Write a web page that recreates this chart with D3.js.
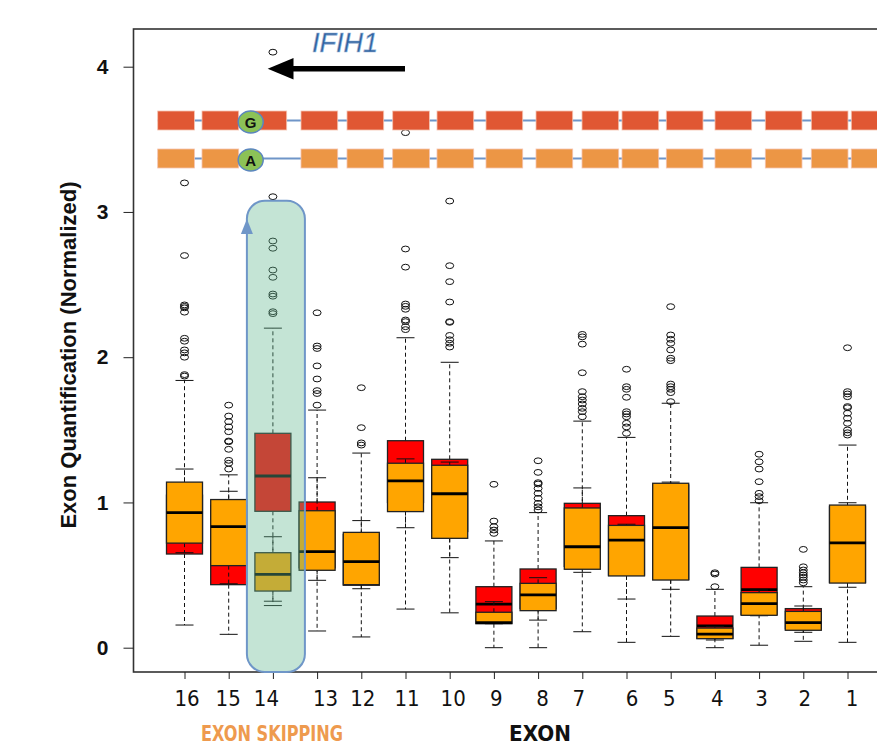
<!DOCTYPE html>
<html>
<head>
<meta charset="utf-8">
<script src="https://cdn.jsdelivr.net/npm/d3@7"></script>
<style>
  body { margin: 0; background: #fff; }
  svg { display: block; }
</style>
</head>
<body>
<svg></svg>
<script>
// exon order on the x axis (gene on minus strand, so 16 first)
const exons = ['16', '15', '14', '13', '12', '11', '10', '9', '8', '7', '6', '5', '4', '3', '2', '1']

// [lower whisker, q1, median, q3, upper whisker]
const redStats = [
  [0.156, 0.645, 0.85, 1.05, 1.84],
  [0.092, 0.434, 0.75, 0.98, 1.19],
  [0.32, 0.939, 1.182, 1.476, 2.20],
  [0.115, 0.55, 0.75, 1.003, 1.636],
  [0.074, 0.43, 0.60, 0.78, 1.34],
  [0.266, 1.0, 1.2, 1.425, 2.134],
  [0.24, 0.8, 1.1, 1.297, 1.965],
  [0.0, 0.165, 0.30, 0.42, 0.735],
  [0.0, 0.27, 0.40, 0.542, 0.93],
  [0.11, 0.56, 0.75, 0.994, 1.56],
  [0.037, 0.5, 0.78, 0.909, 1.448],
  [0.078, 0.47, 0.85, 1.12, 1.683],
  [0.0, 0.065, 0.15, 0.218, 0.402],
  [0.017, 0.23, 0.40, 0.553, 0.998],
  [0.044, 0.13, 0.20, 0.269, 0.42],
  [0.037, 0.45, 0.75, 0.97, 1.395]
]

const orangeStats = [
  [0.654, 0.72, 0.93, 1.14, 1.23],
  [0.44, 0.565, 0.833, 1.02, 1.077],
  [0.29, 0.39, 0.505, 0.654, 0.764],
  [0.464, 0.533, 0.661, 0.943, 1.17],
  [0.406, 0.434, 0.592, 0.794, 0.875],
  [0.826, 0.937, 1.148, 1.27, 1.30],
  [0.62, 0.753, 1.06, 1.256, 1.278],
  [0.165, 0.168, 0.172, 0.244, 0.317],
  [0.19, 0.255, 0.363, 0.443, 0.482],
  [0.519, 0.54, 0.695, 0.962, 1.10],
  [0.335, 0.494, 0.741, 0.842, 0.85],
  [0.402, 0.466, 0.826, 1.132, 1.14],
  [0.053, 0.062, 0.094, 0.135, 0.145],
  [0.22, 0.223, 0.303, 0.379, 0.397],
  [0.106, 0.12, 0.172, 0.25, 0.287],
  [0.416, 0.445, 0.721, 0.982, 0.998]
]

const outliers = [
  [3.20, 2.70, 2.36, 2.35, 2.34, 2.31, 2.13, 2.11, 2.05, 2.03, 2.00, 1.88, 1.87],
  [1.67, 1.595, 1.556, 1.52, 1.487, 1.423, 1.418, 1.366, 1.29, 1.27, 1.23],
  [4.10, 3.105, 2.80, 2.75, 2.60, 2.55, 2.435, 2.42, 2.313, 2.30],
  [2.306, 2.077, 2.06, 1.94, 1.85, 1.77, 1.75, 1.67],
  [1.79, 1.515, 1.41, 1.395],
  [3.546, 2.745, 2.62, 2.366, 2.35, 2.33, 2.256, 2.245, 2.21, 2.19],
  [3.075, 2.63, 2.52, 2.38, 2.245, 2.24, 2.15, 2.12, 2.096, 2.07],
  [1.125, 0.872, 0.833, 0.81, 0.787],
  [1.287, 1.207, 1.136, 1.127, 1.097, 1.063, 1.028, 0.994, 0.97, 0.948],
  [2.157, 2.14, 2.09, 1.893, 1.763, 1.728, 1.705, 1.678, 1.648, 1.625, 1.59],
  [1.917, 1.797, 1.779, 1.724, 1.625, 1.609, 1.59, 1.545, 1.52, 1.476],
  [2.348, 2.153, 2.123, 2.096, 2.05, 1.993, 1.976, 1.815, 1.797, 1.779, 1.756, 1.694],
  [0.516, 0.507, 0.42],
  [1.332, 1.28, 1.23, 1.143, 1.063, 1.04, 1.012],
  [0.677, 0.557, 0.535, 0.516, 0.50, 0.485, 0.466, 0.447],
  [2.065, 1.763, 1.747, 1.728, 1.66, 1.652, 1.614, 1.58, 1.545, 1.499, 1.48, 1.464]
]

const yTicks = [0, 1, 2, 3, 4]
const skippedExon = '14'

// layout
const w = 877
const h = 746
const frame = { left: 133.5, top: 29, bottom: 672, right: 900 }
const boxW = 36
const capW = 18
// small horizontal shifts of the hand placed exon labels
const labelNudge = [2, -1, -7, 8, 1, 1, 3, 2, 4, -4, 5, -2, 2, 2, 1, 4]
// gene sketch: left edges of the 16 exon blocks
const sketchX = [157.7, 202, 250, 301, 347, 392.7, 437, 486, 536, 582, 622, 666.3, 715, 765.3, 811.3, 851.3]
const sketchW = 36.7
const narrow = '"Liberation Sans Narrow", "DejaVu Sans Condensed", sans-serif'
const sans = '"Liberation Sans", Arial, sans-serif'

const svg = d3.select('svg').attr('width', w).attr('height', h)

const x = d3.scalePoint().domain(exons).range([184.5, 847.5])
const y = d3.scaleLinear().domain([0, 4]).range([647.7, 66.7])

// frame
svg.append('rect')
  .attr('x', frame.left).attr('y', frame.top)
  .attr('width', frame.right - frame.left).attr('height', frame.bottom - frame.top)
  .attr('fill', 'none').attr('stroke', '#333').attr('stroke-width', 1.6)

// y axis
const yAxis = d3.axisLeft(y).tickValues(yTicks).tickSize(10).tickPadding(15).tickFormat(d3.format('d'))
const gy = svg.append('g').attr('transform', `translate(${frame.left}, 0)`).call(yAxis)
gy.select('.domain').remove()
gy.selectAll('line').attr('stroke', '#222')
gy.selectAll('text')
  .attr('font-family', sans)
  .attr('font-weight', 'bold').attr('font-size', 21).attr('fill', '#111')

svg.append('text')
  .attr('transform', 'translate(76, 355) rotate(-90)')
  .attr('text-anchor', 'middle')
  .attr('font-family', sans)
  .attr('font-weight', 'bold').attr('font-size', 22).attr('fill', '#111')
  .text('Exon Quantification (Normalized)')

// x axis
const xAxis = d3.axisBottom(x).tickSize(7).tickPadding(11)
const gx = svg.append('g').attr('transform', `translate(0, ${frame.bottom})`).call(xAxis)
gx.select('.domain').remove()
gx.selectAll('line').attr('stroke', '#222')
gx.selectAll('text')
  .attr('font-family', narrow)
  .attr('font-size', 22).attr('fill', '#111')
  .attr('dx', (d, i) => labelNudge[i])

svg.append('text')
  .attr('x', 201).attr('y', 741)
  .attr('font-family', narrow)
  .attr('font-weight', 'bold').attr('font-size', 22).attr('fill', '#ee9a4e')
  .attr('textLength', 142).attr('lengthAdjust', 'spacingAndGlyphs')
  .text('EXON SKIPPING')

svg.append('text')
  .attr('x', 509).attr('y', 741)
  .attr('font-family', narrow)
  .attr('font-weight', 'bold').attr('font-size', 22).attr('fill', '#111')
  .attr('textLength', 62).attr('lengthAdjust', 'spacingAndGlyphs')
  .text('EXON')

// boxplots: red series first, orange on top
const drawBoxes = (stats, fill) => {
  const g = svg.append('g')
  const items = g.selectAll('g').data(stats).enter().append('g')
    .attr('transform', (d, i) => `translate(${x(exons[i])}, 0)`)

  items.append('line')
    .attr('y1', d => y(d[3])).attr('y2', d => y(d[4]))
    .attr('stroke', '#111').attr('stroke-dasharray', '4,3')
  items.append('line')
    .attr('y1', d => y(d[1])).attr('y2', d => y(d[0]))
    .attr('stroke', '#111').attr('stroke-dasharray', '4,3')
  items.append('line')
    .attr('x1', -capW / 2).attr('x2', capW / 2)
    .attr('y1', d => y(d[4])).attr('y2', d => y(d[4]))
    .attr('stroke', '#111')
  items.append('line')
    .attr('x1', -capW / 2).attr('x2', capW / 2)
    .attr('y1', d => y(d[0])).attr('y2', d => y(d[0]))
    .attr('stroke', '#111')

  items.append('rect')
    .attr('x', -boxW / 2).attr('width', boxW)
    .attr('y', d => y(d[3])).attr('height', d => y(d[1]) - y(d[3]))
    .attr('fill', fill).attr('stroke', '#222').attr('stroke-width', 1.3)
  items.append('line')
    .attr('x1', -boxW / 2).attr('x2', boxW / 2)
    .attr('y1', d => y(d[2])).attr('y2', d => y(d[2]))
    .attr('stroke', '#000').attr('stroke-width', 2.8)
}

drawBoxes(redStats, '#ff0000')
drawBoxes(orangeStats, '#ffa500')

// outliers
const pts = outliers.flatMap((vals, i) => vals.map(v => ({ exon: exons[i], v })))
svg.append('g').selectAll('ellipse').data(pts).enter().append('ellipse')
  .attr('cx', d => x(d.exon)).attr('cy', d => y(d.v))
  .attr('rx', 4).attr('ry', 2.9)
  .attr('fill', 'none').attr('stroke', '#111').attr('stroke-width', 1)

// exon skipping highlight
const sx = x(skippedExon)
svg.append('rect')
  .attr('x', sx - 26).attr('y', 200.7)
  .attr('width', 58).attr('height', frame.bottom - 200.7)
  .attr('rx', 18).attr('ry', 18)
  .attr('fill', 'rgb(100,185,145)').attr('fill-opacity', 0.38)
  .attr('stroke', '#6f96c8').attr('stroke-width', 2)
svg.append('path')
  .attr('d', `M${sx - 26},219 L${sx - 32},234 L${sx - 20},234 Z`)
  .attr('fill', '#6f96c8')

// gene sketch
const rows = [
  { y: 111, fill: '#e05733', allele: 'G', skip: false },
  { y: 149, fill: '#ec9645', allele: 'A', skip: true }
]
const sketch = svg.append('g')
rows.forEach(r => {
  sketch.append('line')
    .attr('x1', sketchX[0]).attr('x2', w)
    .attr('y1', r.y + 9.5).attr('y2', r.y + 9.5)
    .attr('stroke', '#6f95c8').attr('stroke-width', 2)
  sketch.selectAll(null)
    .data(sketchX.filter((d, i) => !(r.skip && i === 2)))
    .enter().append('rect')
    .attr('x', d => d).attr('y', r.y)
    .attr('width', sketchW).attr('height', 19)
    .attr('fill', r.fill).attr('stroke', '#f4c2b0').attr('stroke-width', 0.8)
  sketch.append('ellipse')
    .attr('cx', 250.7).attr('cy', r.y + 11)
    .attr('rx', 12.5).attr('ry', 11)
    .attr('fill', '#8cc257').attr('stroke', '#5b86bf').attr('stroke-width', 1.5)
  sketch.append('text')
    .attr('x', 250.7).attr('y', r.y + 16.5).attr('text-anchor', 'middle')
    .attr('font-family', sans)
    .attr('font-weight', 'bold').attr('font-size', 15).attr('fill', '#111')
    .text(r.allele)
})

// direction arrow and gene name
svg.append('line')
  .attr('x1', 405).attr('x2', 288).attr('y1', 68.7).attr('y2', 68.7)
  .attr('stroke', '#000').attr('stroke-width', 5.5)
svg.append('path')
  .attr('d', 'M267.7,68.7 L293.5,58 L293.5,79.5 Z')
  .attr('fill', '#000')

svg.append('text')
  .attr('x', 312).attr('y', 52)
  .attr('font-family', sans)
  .attr('font-style', 'italic').attr('font-size', 27)
  .attr('fill', '#2f62a0').attr('stroke', '#9ab6d8').attr('stroke-width', 0.6)
  .text('IFIH1')
</script>
</body>
</html>
